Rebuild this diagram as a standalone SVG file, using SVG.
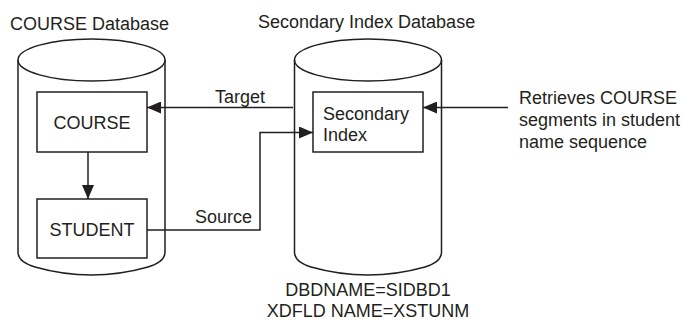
<svg xmlns="http://www.w3.org/2000/svg" width="686" height="320" viewBox="0 0 686 320">
<style>
.ln{fill:none;stroke:#231f20;stroke-width:1.5}
.bx{fill:#fff;stroke:#231f20;stroke-width:1.5}
.t{font-family:"Liberation Sans",Arial,sans-serif;font-size:18px;fill:#231f20}
</style>
<defs>
<marker id="ah" markerWidth="14" markerHeight="12" refX="14" refY="6" orient="auto" markerUnits="userSpaceOnUse">
<path d="M0,0 L14,6 L0,12 Z" fill="#231f20"/>
</marker>
</defs>
<rect width="686" height="320" fill="#fff"/>
<g id="course-db">
<text class="t" x="10" y="30">COURSE Database</text>
<path class="ln" d="M18,60 V252 Q18,262 35,267 Q91.5,283 148,267 Q165,262 165,252 V60"/>
<ellipse class="ln" cx="91.5" cy="60" rx="73.5" ry="21"/>
</g>
<g id="course">
<rect class="bx" x="37" y="92" width="110" height="60"/>
<text class="t" x="92" y="129" text-anchor="middle">COURSE</text>
</g>
<g id="student">
<rect class="bx" x="37" y="199" width="110" height="59"/>
<text class="t" x="92" y="236" text-anchor="middle">STUDENT</text>
</g>
<g id="secondary-db">
<text class="t" x="258" y="28">Secondary Index Database</text>
<path class="ln" d="M294.5,60 V252 Q294.5,262 311,267 Q368,283 425,267 Q441.5,262 441.5,252 V60"/>
<ellipse class="ln" cx="368" cy="60" rx="73.5" ry="21"/>
<text class="t" x="368" y="296" text-anchor="middle">DBDNAME=SIDBD1</text>
<text class="t" x="368" y="317" text-anchor="middle">XDFLD NAME=XSTUNM</text>
</g>
<g id="secondary-index">
<rect class="bx" x="313" y="92" width="110" height="60"/>
<text class="t" x="323" y="120">Secondary</text>
<text class="t" x="323" y="141">Index</text>
</g>
<g id="note">
<text class="t" x="519" y="104">Retrieves COURSE</text>
<text class="t" x="519" y="126">segments in student</text>
<text class="t" x="519" y="148">name sequence</text>
</g>
<g id="connectors">
<line class="ln" x1="88" y1="152" x2="88" y2="199" marker-end="url(#ah)"/>
<line class="ln" x1="293" y1="107.5" x2="147" y2="107.5" marker-end="url(#ah)"/>
<text class="t" x="215" y="103">Target</text>
<polyline class="ln" points="147,230 260,230 260,132.5 313,132.5" marker-end="url(#ah)"/>
<text class="t" x="195" y="223">Source</text>
<line class="ln" x1="508" y1="107.5" x2="423" y2="107.5" marker-end="url(#ah)"/>
</g>
</svg>
